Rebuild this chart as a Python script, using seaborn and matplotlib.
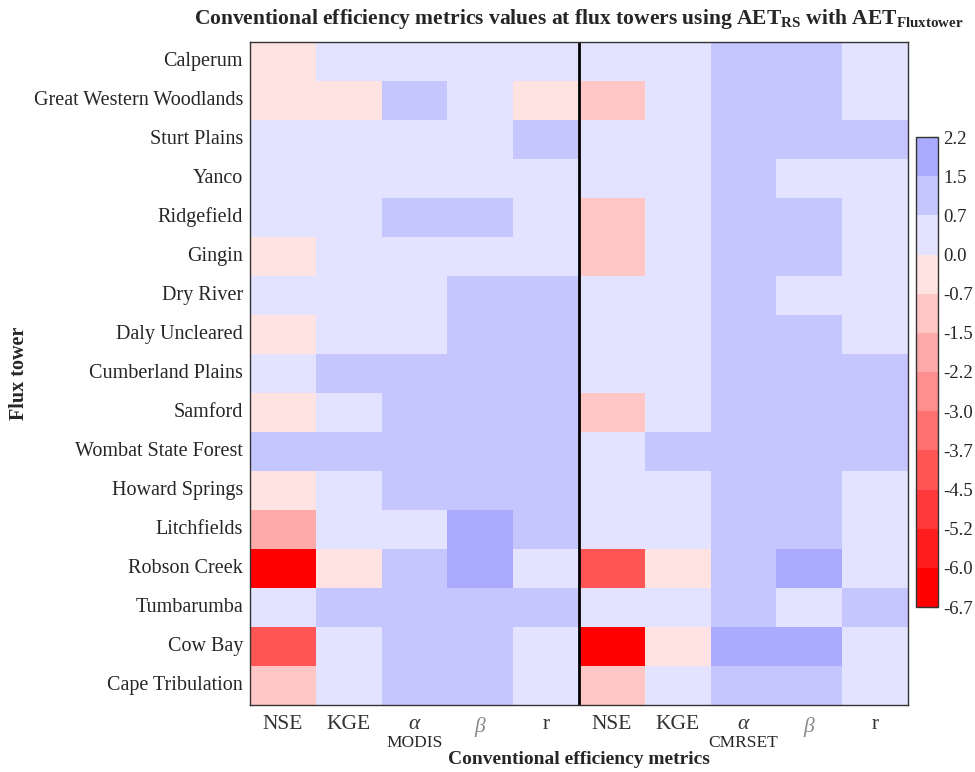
import numpy as np
import pandas as pd
import matplotlib
matplotlib.use('Agg')
import matplotlib.pyplot as plt
import matplotlib.transforms as mtransforms
from matplotlib.colors import ListedColormap, BoundaryNorm
import seaborn as sns

# Flux towers (rows, top to bottom)
towers = ['Calperum', 'Great Western Woodlands', 'Sturt Plains', 'Yanco', 'Ridgefield',
          'Gingin', 'Dry River', 'Daly Uncleared', 'Cumberland Plains', 'Samford',
          'Wombat State Forest', 'Howard Springs', 'Litchfields', 'Robson Creek',
          'Tumbarumba', 'Cow Bay', 'Cape Tribulation']

metric_labels = ['NSE', 'KGE', r'$\alpha$', r'$\beta$', 'r']
products = ['MODIS', 'CMRSET']

# MODIS columns: NSE, KGE, alpha, beta, r
modis = [
    [-0.3, 0.4, 0.5, 0.6, 0.6],
    [-0.4, -0.2, 1.0, 0.6, -0.3],
    [0.4, 0.5, 0.6, 0.6, 0.9],
    [0.5, 0.5, 0.6, 0.6, 0.6],
    [0.3, 0.5, 0.9, 0.8, 0.6],
    [-0.2, 0.4, 0.6, 0.6, 0.6],
    [0.2, 0.5, 0.6, 0.9, 0.8],
    [-0.3, 0.4, 0.6, 0.9, 0.8],
    [0.5, 0.8, 0.9, 0.9, 0.9],
    [-0.4, 0.6, 0.9, 0.9, 0.9],
    [0.8, 0.8, 0.9, 0.9, 0.9],
    [-0.3, 0.5, 0.9, 1.0, 0.8],
    [-1.9, 0.4, 0.6, 1.6, 0.8],
    [-6.5, -0.5, 1.0, 1.7, 0.6],
    [0.4, 0.8, 0.9, 1.0, 0.8],
    [-4.1, 0.4, 1.0, 1.1, 0.6],
    [-1.2, 0.4, 0.9, 1.0, 0.6],
]

# CMRSET columns: NSE, KGE, alpha, beta, r
cmrset = [
    [0.3, 0.5, 0.9, 0.9, 0.6],
    [-1.2, 0.4, 0.9, 1.0, 0.6],
    [0.4, 0.6, 0.9, 0.9, 0.8],
    [0.5, 0.6, 0.9, 0.6, 0.6],
    [-1.0, 0.4, 0.9, 0.9, 0.6],
    [-0.9, 0.5, 0.9, 0.9, 0.6],
    [0.3, 0.5, 0.9, 0.6, 0.6],
    [0.4, 0.6, 0.9, 0.8, 0.6],
    [0.5, 0.6, 0.9, 0.9, 0.8],
    [-1.1, 0.6, 0.9, 0.9, 0.8],
    [0.4, 0.8, 0.9, 0.9, 0.8],
    [0.5, 0.6, 0.9, 0.9, 0.6],
    [0.4, 0.6, 0.9, 0.9, 0.6],
    [-4.2, -0.3, 1.0, 1.6, 0.6],
    [0.3, 0.5, 1.0, 0.6, 0.9],
    [-6.6, -0.4, 1.6, 1.7, 0.6],
    [-1.0, 0.5, 1.0, 0.9, 0.6],
]

# colour bar levels and labels
levels = [-6.7, -6.0, -5.2, -4.5, -3.7, -3.0, -2.2, -1.5, -0.7, 0.0, 0.7, 1.5, 2.2]
level_labels = ['-6.7', '-6.0', '-5.2', '-4.5', '-3.7', '-3.0', '-2.2', '-1.5',
                '-0.7', '0.0', '0.7', '1.5', '2.2']

sns.set_style('white')
plt.rcParams['font.family'] = ['Liberation Serif', 'DejaVu Serif']
plt.rcParams['mathtext.fontset'] = 'custom'
plt.rcParams['mathtext.rm'] = 'Liberation Serif'
plt.rcParams['mathtext.it'] = 'Liberation Serif:italic'
plt.rcParams['mathtext.bf'] = 'Liberation Serif:bold'

# red ramp for negatives (9 steps), blue ramp for positives (3 steps)
reds = []
for i in range(9, 0, -1):
    v = 1 - i / 9
    reds.append((1.0, v, v))
blues = []
for i in range(1, 4):
    v = 1 - i / 9
    blues.append((v, v, 1.0))
cmap = ListedColormap(reds + blues)
norm = BoundaryNorm(levels, cmap.N)

cols = [f'{p} {m}' for p in products for m in metric_labels]
df = pd.DataFrame(np.hstack([np.array(modis), np.array(cmrset)]), index=towers, columns=cols)

fig = plt.figure(figsize=(9.75, 7.72), dpi=100)
ax = fig.add_axes([250 / 975, 1 - 705 / 772, 658 / 975, 663 / 772])
cax = fig.add_axes([916 / 975, 1 - 607 / 772, 22 / 975, 470 / 772])

sns.heatmap(df, ax=ax, cbar_ax=cax, cmap=cmap, norm=norm,
            cbar_kws={'ticks': levels})

ax.set_xticklabels(metric_labels * 2, rotation=0, fontsize=15.5, color='#333333')
for lab in ax.get_xticklabels()[3::5]:
    lab.set_color('#888888')
ax.set_yticklabels(towers, rotation=0, fontsize=14.5)
ax.tick_params(direction='in', length=4, width=1, color='#444444',
               top=True, right=True, bottom=True, left=True,
               labeltop=False, labelright=False)
ax.tick_params(axis='x', pad=7)
ax.tick_params(axis='y', pad=5)
for s in ax.spines.values():
    s.set_visible(True)
    s.set_color('#333333')
    s.set_linewidth(1)

ax.axvline(5, color='black', lw=2)

trans = mtransforms.blended_transform_factory(ax.transData, ax.transAxes)
ax.text(2.5, -0.046, products[0], transform=trans, ha='center', va='top', fontsize=12.5)
ax.text(7.5, -0.046, products[1], transform=trans, ha='center', va='top', fontsize=12.5)

ax.set_xlabel('Conventional efficiency metrics', fontsize=14, fontweight='bold')
ax.xaxis.set_label_coords(0.5, -0.069)
ax.set_ylabel('Flux tower', fontsize=14.5, fontweight='bold')
ax.yaxis.set_label_coords(-0.336, 0.5)
ax.set_title(r'Conventional efficiency metrics values at flux towers using AET$_{\mathbf{RS}}$ with AET$_{\mathbf{Fluxtower}}$',
             fontsize=15.5, fontweight='bold', pad=13)

cbar = ax.collections[0].colorbar
cbar.set_ticks(levels)
cbar.set_ticklabels(level_labels)
cbar.ax.tick_params(direction='in', length=6, labelsize=13.5, color='#333333', pad=4)
cbar.outline.set_linewidth(1)
cbar.outline.set_edgecolor('#333333')

fig.savefig('out.png', dpi=100)
